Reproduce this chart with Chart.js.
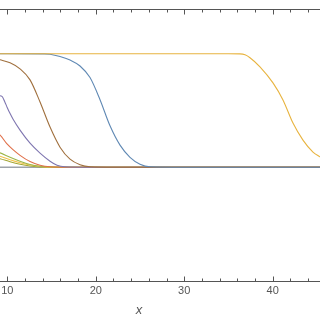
<!DOCTYPE html>
<html>
<head>
<meta charset="utf-8">
<script src="https://cdn.jsdelivr.net/npm/chart.js@4.4.1/dist/chart.umd.min.js"></script>
<style>
  html, body { margin: 0; padding: 0; background: #fff; }
  #box { width: 320px; height: 320px; }
</style>
</head>
<body>
<div id="box"><canvas id="frontChart"></canvas></div>
<script>
// axis range (the reference is cropped on the left and right)
const xMin = 9.175;
const xMax = 45.345;
const yMin = -1.0;
const yMax = 1.394;
const majorTicks = [10, 20, 30, 40];

// the fronts
const yellowX = [5, 10, 20, 30, 35, 36.3, 36.87, 37.43, 38.56, 40.03, 41.16, 42.29, 43.42, 44.55, 45.23, 46.5, 48];
const yellowY = [1, 1, 1, 1, 1, 0.999, 0.991, 0.965, 0.885, 0.743, 0.593, 0.389, 0.239, 0.133, 0.097, 0.05, 0.015];

const blueX = [5, 10, 14.2, 14.83, 15.96, 17.09, 18.22, 19.35, 20.48, 21.61, 22.74, 23.87, 25.0, 26.13, 30, 50];
const blueY = [1, 1, 0.999, 0.995, 0.975, 0.945, 0.892, 0.79, 0.595, 0.365, 0.195, 0.088, 0.027, 0.004, 0, 0];

const brownX = [5, 7.5, 9.18, 10.31, 11.44, 12.57, 13.70, 14.83, 15.96, 17.09, 18.22, 19.35, 22, 50];
const brownY = [0.995, 0.98, 0.947, 0.92, 0.867, 0.77, 0.575, 0.354, 0.177, 0.071, 0.022, 0.004, 0, 0];

const purpleX = [8.5, 9.18, 9.4, 9.7, 10.0, 10.3, 10.64, 11.44, 12.57, 13.70, 14.83, 15.62, 16.52, 19, 50];
const purpleY = [0.61, 0.63, 0.625, 0.58, 0.525, 0.475, 0.425, 0.327, 0.212, 0.124, 0.053, 0.018, 0.004, 0, 0];

const redX = [8.6, 9.18, 9.97, 10.64, 11.44, 12.57, 13.70, 14.83, 17, 50];
const redY = [0.31, 0.283, 0.205, 0.155, 0.105, 0.05, 0.018, 0.004, 0, 0];

const greenX = [8.6, 9.18, 10.31, 11.44, 12.57, 13.70, 15, 17, 50];
const greenY = [0.14, 0.127, 0.088, 0.053, 0.025, 0.009, 0.002, 0, 0];

const goldX = [8.6, 9.18, 10.31, 11.44, 12.57, 13.70, 15, 17, 50];
const goldY = [0.11, 0.097, 0.066, 0.04, 0.02, 0.007, 0.001, 0, 0];

const oliveX = [8.6, 9.18, 10.31, 11.44, 12.57, 13.70, 15, 50];
const oliveY = [0.085, 0.075, 0.049, 0.027, 0.011, 0.003, 0, 0];

function points(xs, ys) {
    return xs.map((x, i) => ({ x: x, y: ys[i] }));
}

function curve(xs, ys, color) {
    return {
        data: points(xs, ys),
        borderColor: color,
        borderWidth: 1.1,
        pointRadius: 0,
        fill: false,
        cubicInterpolationMode: 'monotone'
    };
}

// frame lines, inward ticks, the y = 0 axis and the axis label
const framePlugin = {
    id: 'frame',
    beforeDatasetsDraw(chart) {
        const ctx = chart.ctx;
        const area = chart.chartArea;
        const y0 = chart.scales.y.getPixelForValue(0);
        ctx.save();
        ctx.strokeStyle = '#9ea3aa';
        ctx.lineWidth = 1.3;
        ctx.beginPath();
        ctx.moveTo(area.left, y0);
        ctx.lineTo(area.right, y0);
        ctx.stroke();
        ctx.restore();
    },
    afterDraw(chart) {
        const ctx = chart.ctx;
        const area = chart.chartArea;
        const xs = chart.scales.x;
        const top = Math.round(area.top) + 0.5;
        const bottom = Math.round(area.bottom) + 0.5;
        ctx.save();
        ctx.strokeStyle = '#555';
        ctx.lineWidth = 1;
        ctx.beginPath();
        ctx.moveTo(0, top);
        ctx.lineTo(chart.width, top);
        ctx.moveTo(0, bottom);
        ctx.lineTo(chart.width, bottom);
        xs.ticks.forEach(t => {
            const px = Math.round(xs.getPixelForValue(t.value)) + 0.5;
            const len = majorTicks.includes(t.value) ? 5 : 3;
            ctx.moveTo(px, bottom);
            ctx.lineTo(px, bottom - len);
            ctx.moveTo(px, top);
            ctx.lineTo(px, top + len);
        });
        ctx.stroke();

        ctx.fillStyle = '#555';
        ctx.font = 'italic 13px "Liberation Sans", Arial, sans-serif';
        ctx.textAlign = 'center';
        ctx.textBaseline = 'middle';
        ctx.fillText('x', xs.getPixelForValue(24.9), 310);
        ctx.restore();
    }
};

const ctx = document.getElementById('frontChart').getContext('2d');
const frontChart = new Chart(ctx, {
    type: 'line',
    data: {
        // first dataset is drawn on top
        datasets: [
            curve(yellowX, yellowY, '#e8b440'),
            curve(blueX, blueY, '#6089b4'),
            curve(brownX, brownY, '#a0703e'),
            curve(purpleX, purpleY, '#7f76b0'),
            curve(redX, redY, '#e0704a'),
            curve(greenX, greenY, '#9cb64a'),
            curve(goldX, goldY, '#f2c44a'),
            curve(oliveX, oliveY, '#a3a634')
        ]
    },
    options: {
        responsive: true,
        maintainAspectRatio: false,
        animation: false,
        layout: {
            padding: { top: 9, bottom: 18, left: 0, right: 0 }
        },
        plugins: {
            legend: { display: false },
            tooltip: { enabled: false }
        },
        scales: {
            x: {
                type: 'linear',
                min: xMin,
                max: xMax,
                grid: { display: false, drawTicks: false },
                border: { display: false },
                afterFit: scale => {
                    scale.paddingLeft = 0;
                    scale.paddingRight = 0;
                },
                ticks: {
                    stepSize: 2,
                    includeBounds: false,
                    autoSkip: false,
                    maxRotation: 0,
                    padding: 4,
                    color: '#555',
                    font: { family: '"Liberation Sans", Arial, sans-serif', size: 11 },
                    callback: v => (majorTicks.includes(v) ? String(v) : '')
                }
            },
            y: {
                display: false,
                min: yMin,
                max: yMax
            }
        }
    },
    plugins: [framePlugin]
});
</script>
</body>
</html>
